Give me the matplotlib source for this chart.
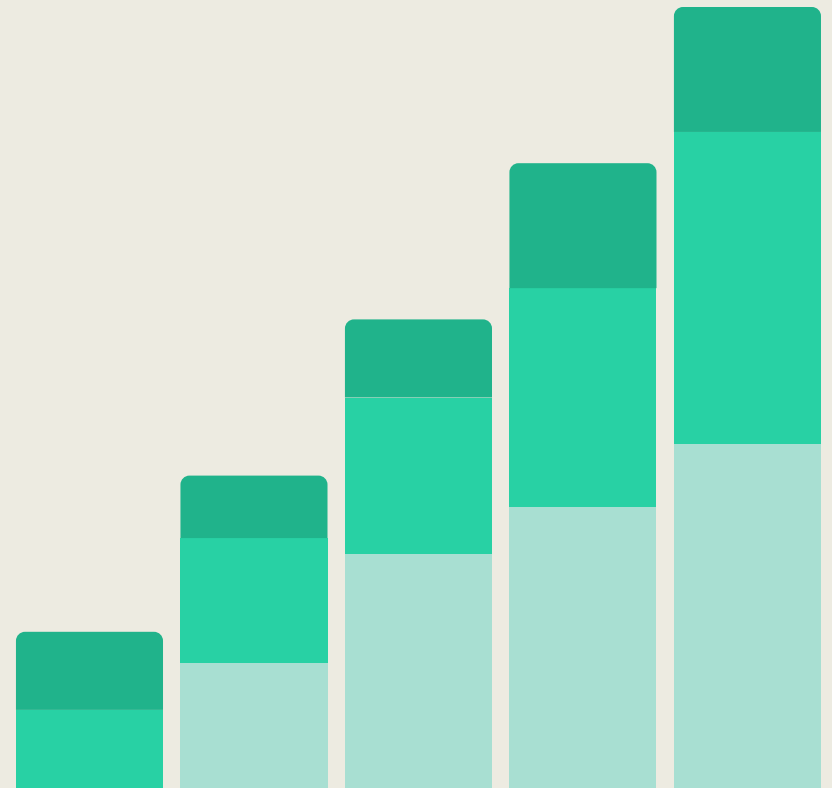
import matplotlib.pyplot as plt
from matplotlib.patches import PathPatch
from matplotlib.path import Path
import numpy as np

# Data
categories = ['A', 'B', 'C', 'D', 'E']
base = [0, 8, 15, 18, 22]      # light segment
middle = [5, 8, 10, 14, 20]    # mid green segment
top = [5, 4, 5, 8, 8]          # dark top segment

bg = '#EDEBE1'
c_light = '#A8DFD2'
c_mid = '#28D1A4'
c_dark = '#20B38B'

fig = plt.figure(figsize=(8.32, 7.88), dpi=100, facecolor=bg)
ax = fig.add_axes([0, 0, 1, 1])
ax.set_facecolor(bg)

x = np.arange(len(categories))
width = 0.894
ymax = 50 * 788 / 781
ax.set_xlim(-0.544, 4.514)
ax.set_ylim(0, ymax)

# rounding radius in x and y data units (about 9 px)
rx = 9 / 164.5
ry = 9 / (781 / 50)


def top_rounded(x0, y0, w, h):
    # rectangle with only the two upper corners rounded
    k = 0.5523
    x1, y1 = x0 + w, y0 + h
    verts = [(x0, y0), (x1, y0), (x1, y1 - ry),
             (x1, y1 - ry + k * ry), (x1 - rx + k * rx, y1), (x1 - rx, y1),
             (x0 + rx, y1),
             (x0 + rx - k * rx, y1), (x0, y1 - ry + k * ry), (x0, y1 - ry),
             (x0, y0)]
    codes = [Path.MOVETO, Path.LINETO, Path.LINETO,
             Path.CURVE4, Path.CURVE4, Path.CURVE4,
             Path.LINETO,
             Path.CURVE4, Path.CURVE4, Path.CURVE4,
             Path.CLOSEPOLY]
    return Path(verts, codes)


base = np.array(base)
middle = np.array(middle)
top = np.array(top)
stack = base + middle

ax.bar(x, base, width=width, color=c_light, linewidth=0)
ax.bar(x, middle, bottom=base, width=width, color=c_mid, linewidth=0)
for xi, s, t in zip(x, stack, top):
    ax.add_patch(PathPatch(top_rounded(xi - width / 2, s, width, t),
                           facecolor=c_dark, edgecolor='none'))

ax.axis('off')
plt.savefig('out.png', dpi=100, facecolor=bg)
